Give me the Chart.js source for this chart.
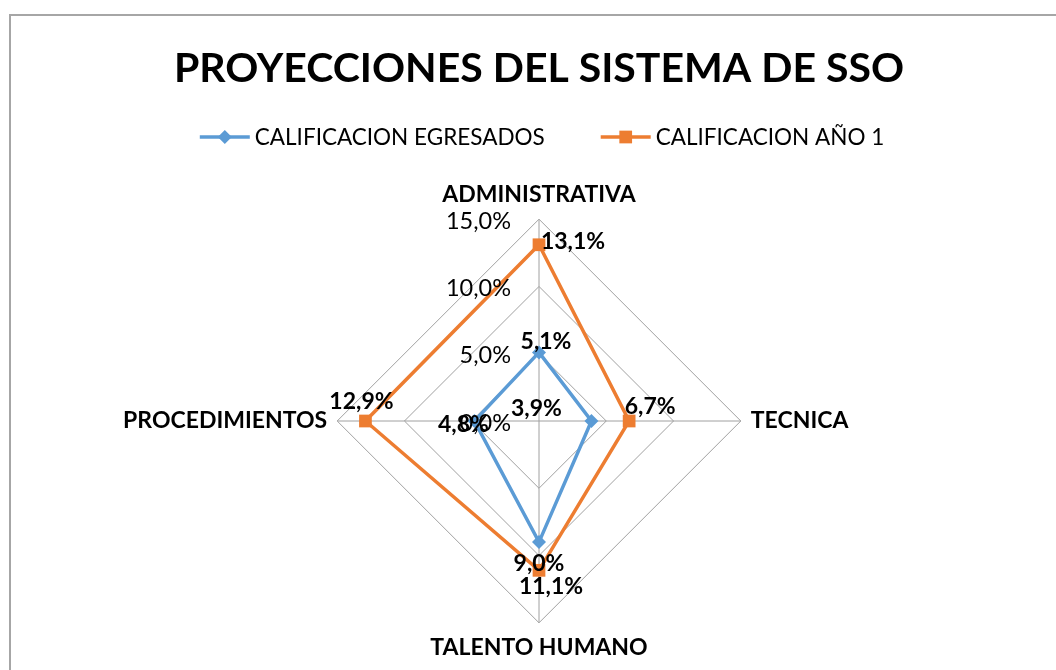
<!DOCTYPE html>
<html>
<head>
<meta charset="utf-8">
<script src="https://cdn.jsdelivr.net/npm/chart.js@4.4.0/dist/chart.umd.min.js"></script>
<style>
  html, body { margin: 0; padding: 0; background: #fff; overflow: hidden; }
  #frame { position: absolute; left: 9px; top: 14px; width: 1200px; height: 800px; border: 2px solid #a6a6a6; }
  #chart { position: absolute; left: 0; top: 0; }
</style>
</head>
<body>
<div id="frame"></div>
<canvas id="chart" width="1056" height="670"></canvas>
<script>
const categories = ['ADMINISTRATIVA', 'TECNICA', 'TALENTO HUMANO', 'PROCEDIMIENTOS'];
const seriesNames = ['CALIFICACION EGRESADOS', 'CALIFICACION AÑO 1'];
const egresados = [5.1, 3.9, 9.0, 4.8];
const anio1 = [13.1, 6.7, 11.1, 12.9];
const axisMax = 15;
const axisStep = 5;

const BLUE = '#5b9bd5';
const ORANGE = '#ed7d31';
const FONT = 'Lato';

// where each value label sits relative to its point (dx, dy)
const labelOffsets = [
    [[7, -11], [-55, -12], [0, 21], [-11, 4]],
    [[34, -3], [21, -14], [12, 16], [-4, -19]]
];

function pct(v) {
    return v.toFixed(1).replace('.', ',') + '%';
}

const tickLabels = {
    id: 'tickLabels',
    afterDatasetsDraw(chart) {
        const scale = chart.scales.r;
        const ctx = chart.ctx;
        ctx.save();
        ctx.font = '23.5px ' + FONT;
        ctx.fillStyle = '#000';
        ctx.textAlign = 'right';
        ctx.textBaseline = 'middle';
        scale.ticks.forEach(t => {
            const y = scale.yCenter - scale.getDistanceFromCenterForValue(t.value);
            ctx.fillText(pct(t.value), scale.xCenter - 28, y + 2);
        });
        ctx.restore();
    }
};

const valueLabels = {
    id: 'valueLabels',
    afterDatasetsDraw(chart) {
        const ctx = chart.ctx;
        ctx.save();
        ctx.font = 'bold 23px ' + FONT;
        ctx.fillStyle = '#000';
        ctx.textAlign = 'center';
        ctx.textBaseline = 'middle';
        chart.data.datasets.forEach((ds, di) => {
            chart.getDatasetMeta(di).data.forEach((pt, i) => {
                const off = labelOffsets[di][i];
                ctx.fillText(pct(ds.data[i]), pt.x + off[0], pt.y + off[1]);
            });
        });
        ctx.restore();
    }
};

const lineLegend = {
    id: 'lineLegend',
    afterDraw(chart) {
        const ctx = chart.ctx;
        const lineW = 50, gapText = 5, gapItem = 56, y = 137;
        ctx.save();
        ctx.font = '22.5px ' + FONT;
        const widths = chart.data.datasets.map(ds => lineW + gapText + ctx.measureText(ds.label).width);
        const total = widths.reduce((a, b) => a + b, 0) + gapItem * (widths.length - 1);
        let x = 542 - total / 2;
        chart.data.datasets.forEach((ds, i) => {
            ctx.strokeStyle = ds.borderColor;
            ctx.lineWidth = ds.borderWidth;
            ctx.beginPath();
            ctx.moveTo(x, y);
            ctx.lineTo(x + lineW, y);
            ctx.stroke();
            ctx.fillStyle = ds.pointBackgroundColor;
            Chart.helpers.drawPoint(ctx, { pointStyle: ds.pointStyle, radius: ds.pointRadius, borderWidth: 0 }, x + lineW / 2, y);
            ctx.fillStyle = '#000';
            ctx.textAlign = 'left';
            ctx.textBaseline = 'middle';
            ctx.fillText(ds.label, x + lineW + gapText, y + 1);
            x += widths[i] + gapItem;
        });
        ctx.restore();
    }
};

new Chart(document.getElementById('chart'), {
    type: 'radar',
    data: {
        labels: categories,
        datasets: [
            {
                label: seriesNames[0],
                data: egresados,
                borderColor: BLUE,
                backgroundColor: BLUE,
                pointBackgroundColor: BLUE,
                pointBorderWidth: 0,
                pointStyle: 'rectRot',
                pointRadius: 7,
                borderWidth: 3.5,
                fill: false
            },
            {
                label: seriesNames[1],
                data: anio1,
                borderColor: ORANGE,
                backgroundColor: ORANGE,
                pointBackgroundColor: ORANGE,
                pointBorderWidth: 0,
                pointStyle: 'rect',
                pointRadius: 9,
                borderWidth: 3.5,
                fill: false
            }
        ]
    },
    options: {
        responsive: false,
        animation: false,
        devicePixelRatio: 1,
        layout: { padding: { left: 80, right: 58, top: 0, bottom: 7 } },
        elements: { line: { tension: 0 } },
        scales: {
            r: {
                min: 0,
                max: axisMax,
                ticks: { stepSize: axisStep, display: false },
                grid: { color: '#a0a0a0', lineWidth: 1 },
                angleLines: { color: '#a0a0a0', lineWidth: 1 },
                pointLabels: {
                    color: '#000',
                    padding: 10,
                    font: { family: FONT, size: 23, weight: 'bold', lineHeight: 30 / 23 }
                }
            }
        },
        plugins: {
            legend: { display: false },
            tooltip: { enabled: false },
            title: {
                display: true,
                text: 'PROYECCIONES DEL SISTEMA DE SSO',
                color: '#000',
                font: { family: FONT, size: 41, weight: 'bold', lineHeight: 1.2 },
                padding: { top: 44, bottom: 86 }
            }
        }
    },
    plugins: [tickLabels, valueLabels, lineLegend]
});
</script>
</body>
</html>
